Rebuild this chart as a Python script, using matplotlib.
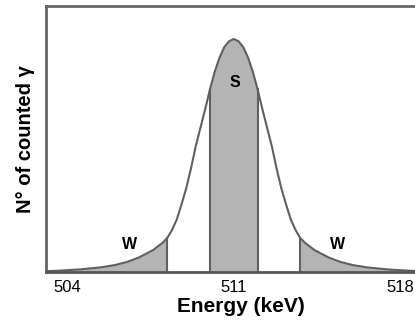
import numpy as np
import matplotlib
matplotlib.use('Agg')
import matplotlib.pyplot as plt

# peak: energy offset from 511 keV and relative counts (peak = 100)
peak_E = 511.0
offsets = [0.0, 0.2, 0.4, 0.6, 0.8, 1.0, 1.2, 1.4, 1.6, 1.8, 2.0, 2.2, 2.4,
           2.6, 2.8, 3.0, 3.4, 4.0, 4.5, 5.0, 5.6, 6.5, 7.5, 8.5]
counts = [100, 99, 96.5, 92, 86, 78.5, 70, 62, 54, 44.5, 36, 29, 22.5,
          18, 14.6, 12.5, 9.4, 6.2, 4.3, 3.0, 2.0, 1.1, 0.5, 0.2]

# windows
w_left = (503.0, 508.2)
s_win = (510.0, 512.0)
w_right = (513.8, 519.5)

xticks = [504, 511, 518]

E = np.concatenate([peak_E - np.array(offsets[:0:-1]), peak_E + np.array(offsets)])
y = np.concatenate([np.array(counts[:0:-1]), np.array(counts)])

fig = plt.figure(figsize=(4.15, 3.25), dpi=100)
ax = fig.add_axes([0.111, 0.163, 1.05 - 0.111, 0.982 - 0.163])

fill_c = '#b4b4b4'
line_c = '#606060'
for lo, hi in [w_left, s_win, w_right]:
    m = (E >= lo) & (E <= hi)
    ax.fill_between(E[m], 0, y[m], color=fill_c, linewidth=0)
    for b in (lo, hi):
        if E.min() < b < E.max() and b < 519:
            ax.plot([b, b], [0, np.interp(b, E, y)], color=line_c, lw=1.5)

ax.plot(E, y, color=line_c, lw=1.5)

ax.text(511.05, 81.5, 'S', ha='center', va='center', fontsize=11.5,
        fontweight='bold', family='Liberation Sans')
ax.text(506.63, 11.6, 'W', ha='center', va='center', fontsize=11.5,
        fontweight='bold', family='Liberation Sans')
ax.text(515.35, 11.6, 'W', ha='center', va='center', fontsize=11.5,
        fontweight='bold', family='Liberation Sans')

ax.set_xlim(503.1, 519.5)
ax.set_ylim(0, 114.2)
ax.set_xticks(xticks)
ax.set_xticklabels([str(t) for t in xticks], fontsize=12, family='Liberation Sans')
ax.set_yticks([])
ax.tick_params(axis='x', length=0, pad=6)
for s in ax.spines.values():
    s.set_color('#666666')
    s.set_linewidth(2)
ax.spines['bottom'].set_color('#555555')

ax.set_xlabel('Energy (keV)', fontsize=15, fontweight='bold',
              family='Liberation Sans', labelpad=1)
ax.set_ylabel('N° of counted γ', fontsize=14.5, fontweight='bold',
              family='Liberation Sans', labelpad=8)

fig.savefig('out.png', dpi=100)
